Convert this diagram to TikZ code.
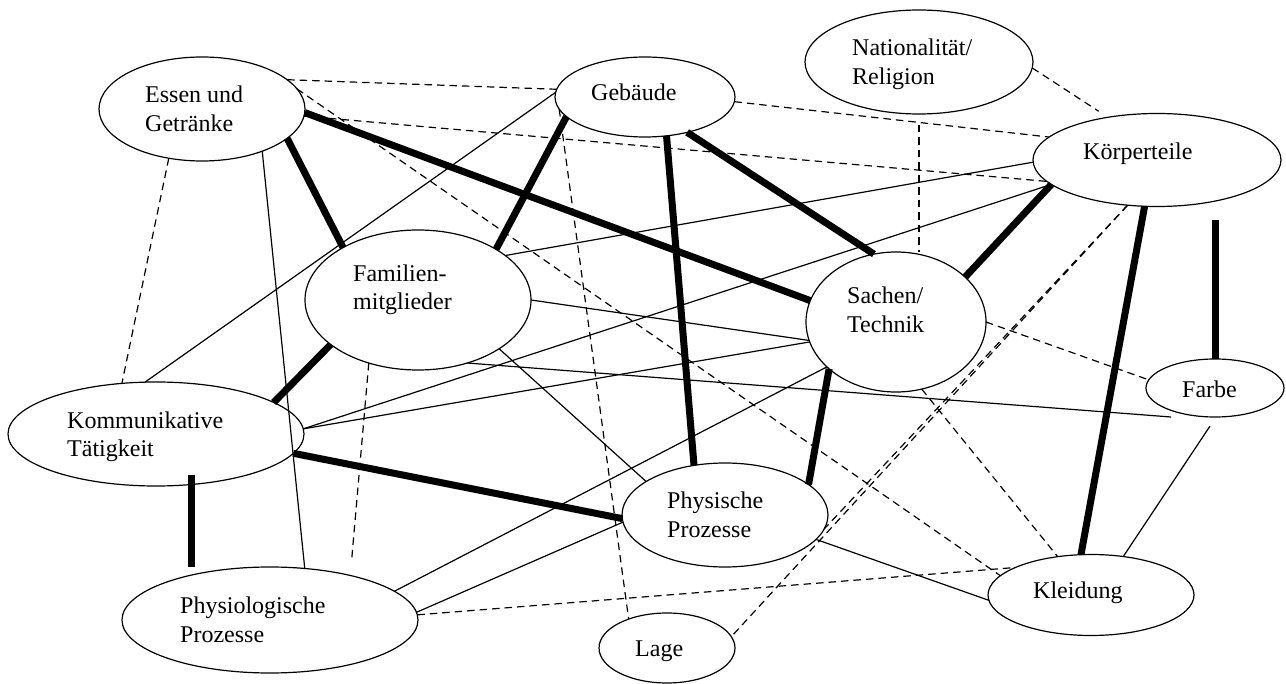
\documentclass[tikz,border=0pt]{standalone}
\usepackage{fontspec}
\setmainfont{Liberation Serif}
\usetikzlibrary{shapes.geometric}
\begin{document}
\begin{tikzpicture}[x=1pt,y=-1pt,
  oval/.style={ellipse,draw,line width=1.2pt,inner sep=0pt,outer sep=0pt},
  lbl/.style={anchor=west,align=left,inner sep=0pt,font=\fontsize{24}{28.5}\selectfont},
  solidline/.style={line width=1.2pt},
  thickline/.style={line width=7pt},
  dashline/.style={line width=1.2pt,dash pattern=on 7.5pt off 5pt}]
\useasboundingbox (0,0) rectangle (1286,684);
% ellipses
\node[oval,minimum width=206pt,minimum height=104pt] (essen) at (202,109) {};
\node[oval,minimum width=180pt,minimum height=80pt] (gebaeude) at (645,97) {};
\node[oval,minimum width=228pt,minimum height=104pt] (nation) at (919,62) {};
\node[oval,minimum width=248pt,minimum height=93pt] (koerper) at (1157,160) {};
\node[oval,minimum width=226pt,minimum height=140pt] (familie) at (418,300) {};
\node[oval,minimum width=180pt,minimum height=140pt] (sachen) at (896,322) {};
\node[oval,minimum width=138pt,minimum height=58pt] (farbe) at (1215,388) {};
\node[oval,minimum width=296pt,minimum height=104pt] (kommu) at (156,434) {};
\node[oval,minimum width=206pt,minimum height=104pt] (physisch) at (725,515) {};
\node[oval,minimum width=296pt,minimum height=106pt] (physio) at (270,620) {};
\node[oval,minimum width=136pt,minimum height=70pt] (lage) at (667,648) {};
\node[oval,minimum width=206pt,minimum height=81pt] (kleidung) at (1091,595) {};
% labels
\node[lbl] (essen-t) at (145,108.8) {Essen und\\Getränke};
\node[lbl] (gebaeude-t) at (591,92.5) {Gebäude};
\node[lbl] (nation-t) at (852,64.3) {Nationalität/\\Religion};
\node[lbl] (koerper-t) at (1083,154) {Körperteile};
\node[lbl] (familie-t) at (353,290) {Familien-\\mitglieder};
\node[lbl] (sachen-t) at (847,309.7) {Sachen/\\Technik};
\node[lbl] (farbe-t) at (1182,389.5) {Farbe};
\node[lbl] (kommu-t) at (67,437) {Kommunikative\\Tätigkeit};
\node[lbl] (physisch-t) at (667,514.8) {Physische\\Prozesse};
\node[lbl] (physio-t) at (180,619.8) {Physiologische\\Prozesse};
\node[lbl] (lage-t) at (635,651) {Lage};
\node[lbl] (kleidung-t) at (1033,593) {Kleidung};
\coordinate (farbe-end) at (1171,417);
% thin solid connectors
\draw[solidline] (essen.-35.7) -- (physio.56.1);
\draw[solidline] (gebaeude.177.5) -- (kommu.102);
\draw[solidline] (familie.27.6) -- (koerper.181);
\draw[solidline] (familie.0) -- (sachen.192.7);
\draw[solidline] (familie.-52.7) -- (farbe-end);
\draw[solidline] (familie.-31.7) -- (physisch.157.8);
\draw[solidline] (kommu.2.3) -- (koerper.193.6);
\draw[solidline] (kommu.2.3) -- (sachen.193.9);
\draw[solidline] (physio.13.4) -- (sachen.213.1);
\draw[solidline] (physio.3.1) -- (physisch.184.4);
\draw[solidline] (physisch.-15.2) -- (kleidung.183.9);
\draw[solidline,shorten <=11pt] (farbe.-88.6) -- (kleidung.50.5);
% thick connectors
\draw[thickline] (essen.-2.2) -- (sachen.166.6);
\draw[thickline] (essen.-19.9) -- (familie.145.6);
\draw[thickline] (gebaeude.194.8) -- (familie.33.5);
\draw[thickline] (gebaeude.-61.2) -- (physisch.122.5);
\draw[thickline] (gebaeude.-40.4) -- (sachen.108.9);
\draw[thickline] (sachen.33.1) -- (koerper.193.6);
\draw[thickline] (koerper.-105.5) -- (kleidung.104);
\draw[thickline,shorten >=13.5pt] (farbe.north) -- (farbe.north |- koerper.south);
\draw[thickline] (familie.207.1) -- (kommu.15.4);
\draw[thickline] (kommu.-8.1) -- (physisch.182.8);
\draw[thickline,shorten <=-9pt] (kommu.-55) -- (kommu.-55 |- physio.north);
\draw[thickline] (sachen.215.2) -- (physisch.20.3);
% dashed connectors
\draw[dashline] (essen.19.9) -- (gebaeude.175.6);
\draw[dashline] (essen.12.2) -- (kleidung.168);
\draw[dashline] (essen.-4) -- (koerper.191.8);
\draw[dashline] (essen.236.3) -- (kommu.124.2);
\draw[dashline] (gebaeude.-3.8) -- (koerper.168.1);
\draw[dashline] (gebaeude.188.5) -- (lage.143.7);
\draw[dashline,shorten <=11pt] (nation.south) -- (nation.south |- sachen.north);
\draw[dashline,shorten >=11pt] (nation.-3) -- (koerper.139.7);
\draw[dashline] (koerper.237.4) -- (lage.10.8);
\draw[dashline] (koerper.237.4) -- (physisch.-8.5);
\draw[dashline] (sachen.-0.6) -- (farbe.173.1);
\draw[dashline] (sachen.-69.8) -- (kleidung.131.2);
\draw[dashline,shorten >=15pt] (familie.232.2) -- (physio.29.5);
\draw[dashline] (physio.2.7) -- (kleidung.160.7);
\end{tikzpicture}
\end{document}
